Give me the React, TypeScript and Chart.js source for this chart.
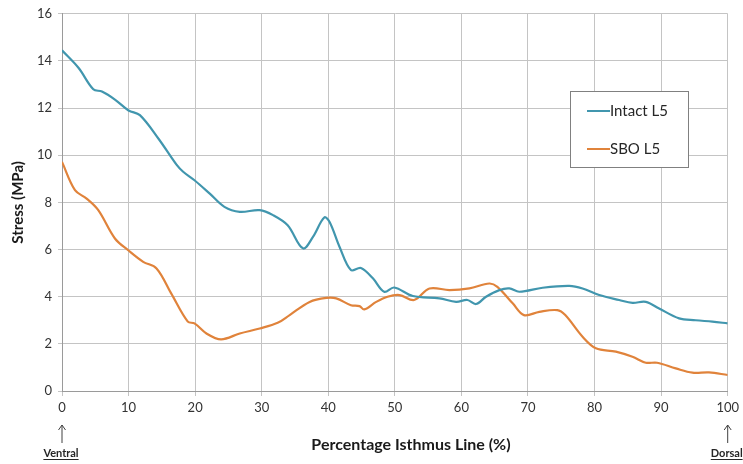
import React, { useEffect, useRef } from "react";
import { Chart, registerables } from "chart.js";

Chart.register(...registerables);

const intactX = [0, 2.5, 4.7, 6, 8, 10, 11.7, 14.5, 17.2, 18.2, 19.9, 22.2, 24.4, 26.7, 29.7, 31.7, 33.9, 36.2, 37.7, 39.4, 40.2, 41.7, 43.4, 44.9, 46.7, 48.4, 49.9, 52.7, 56.7, 59.2, 60.9, 62.2, 63.7, 65.7, 67.2, 68.7, 72.2, 76.2, 78.2, 80.7, 83.7, 85.7, 87.7, 89.7, 92.7, 95.2, 97.7, 100];
const intactY = [14.45, 13.7, 12.8, 12.7, 12.35, 11.9, 11.7, 10.7, 9.6, 9.3, 8.94, 8.37, 7.81, 7.6, 7.67, 7.46, 7.03, 6.05, 6.54, 7.36, 7.17, 6.11, 5.13, 5.22, 4.78, 4.21, 4.39, 4.03, 3.93, 3.78, 3.86, 3.69, 4.0, 4.28, 4.35, 4.21, 4.38, 4.46, 4.35, 4.07, 3.86, 3.74, 3.78, 3.5, 3.08, 3.0, 2.94, 2.87];

const sboX = [0, 1.95, 3.7, 5.45, 7.95, 9.95, 12.2, 14.2, 16.4, 18.9, 19.9, 21.7, 23.9, 26.7, 29.7, 32.4, 34.2, 37.2, 39.7, 41.2, 43.4, 44.7, 45.4, 47.2, 48.9, 50.7, 52.9, 55.2, 58.2, 61.2, 64.2, 65.4, 67.7, 69.4, 71.7, 74.4, 75.6, 78.2, 80.2, 83.2, 85.7, 87.7, 89.4, 92.2, 94.7, 97.2, 100];
const sboY = [9.72, 8.52, 8.16, 7.67, 6.47, 5.97, 5.48, 5.2, 4.14, 2.94, 2.87, 2.44, 2.19, 2.44, 2.65, 2.89, 3.22, 3.78, 3.95, 3.93, 3.64, 3.6, 3.46, 3.78, 4.0, 4.07, 3.86, 4.35, 4.28, 4.35, 4.56, 4.42, 3.72, 3.22, 3.36, 3.43, 3.22, 2.3, 1.81, 1.67, 1.45, 1.2, 1.2, 0.96, 0.78, 0.79, 0.68];

const seriesNames = ["Intact L5", "SBO L5"];
const seriesColors = ["#4196AE", "#E0833B"];
const endLabels = ["Ventral", "Dorsal"];
const xTitle = "Percentage Isthmus Line (%)";

const FONT = "Lato, 'Open Sans', sans-serif";

const overlayPlugin = {
  id: "overlay",
  afterDraw(chart: any) {
    const ctx = chart.ctx;
    const xs = chart.scales.x;
    ctx.save();
    // legend box
    const bx = 570, by = 91, bw = 118, bh = 76;
    ctx.fillStyle = "#ffffff";
    ctx.fillRect(bx, by, bw, bh);
    ctx.strokeStyle = "#808080";
    ctx.lineWidth = 1;
    ctx.strokeRect(bx + 0.5, by + 0.5, bw, bh);
    ctx.font = `15px ${FONT}`;
    ctx.textBaseline = "middle";
    ctx.textAlign = "left";
    const rows = [111, 149];
    seriesNames.forEach((n, i) => {
      ctx.strokeStyle = seriesColors[i];
      ctx.lineWidth = 2;
      ctx.beginPath();
      ctx.moveTo(587, rows[i]);
      ctx.lineTo(610, rows[i]);
      ctx.stroke();
      ctx.fillStyle = "#262626";
      ctx.fillText(n, 610, rows[i]);
    });
    // x-axis title (offset like the original)
    ctx.font = `bold 16px ${FONT}`;
    ctx.textAlign = "center";
    ctx.fillStyle = "#1a1a1a";
    ctx.fillText(xTitle, 411, 445);
    // ventral/dorsal annotations
    const ends = [xs.getPixelForValue(0), xs.getPixelForValue(100)];
    ctx.font = `bold 11px ${FONT}`;
    ctx.textAlign = "center";
    ends.forEach((px: number, i: number) => {
      ctx.strokeStyle = "#404040";
      ctx.lineWidth = 1;
      ctx.beginPath();
      ctx.moveTo(px, 443);
      ctx.lineTo(px, 425);
      ctx.moveTo(px - 3.5, 430);
      ctx.lineTo(px, 425);
      ctx.lineTo(px + 3.5, 430);
      ctx.stroke();
      const tx = px - 1;
      ctx.fillStyle = "#262626";
      ctx.fillText(endLabels[i], tx, 453);
      const w = ctx.measureText(endLabels[i]).width;
      ctx.fillRect(tx - w / 2, 459, w, 1);
    });
    ctx.restore();
  },
};

export default function App() {
  const ref = useRef<HTMLCanvasElement>(null);
  useEffect(() => {
    document.body.style.margin = "0";
    const chart = new Chart(ref.current as HTMLCanvasElement, {
      type: "line",
      data: {
        datasets: [
          {
            label: seriesNames[0],
            data: intactX.map((x, i) => ({ x, y: intactY[i] })),
            borderColor: seriesColors[0],
            borderWidth: 2.2,
            pointRadius: 0,
            tension: 0.35,
            fill: false,
          },
          {
            label: seriesNames[1],
            data: sboX.map((x, i) => ({ x, y: sboY[i] })),
            borderColor: seriesColors[1],
            borderWidth: 2.2,
            pointRadius: 0,
            tension: 0.35,
            fill: false,
          },
        ],
      },
      options: {
        animation: false,
        responsive: false,
        layout: { padding: { top: 13, right: 14, left: 0, bottom: 0 } },
        plugins: { legend: { display: false }, tooltip: { enabled: false } },
        scales: {
          x: {
            type: "linear",
            min: 0,
            max: 100,
            ticks: { stepSize: 10, color: "#333333", font: { family: FONT, size: 13 }, padding: 4 },
            grid: { color: "#c4c4c4", tickLength: 5, lineWidth: 1 },
            border: { color: "#9a9a9a" },
            title: { display: false },
            afterFit(scale: any) {
              scale.height = 73;
            },
          },
          y: {
            min: 0,
            max: 16,
            ticks: { stepSize: 2, color: "#333333", font: { family: FONT, size: 13 }, padding: 6 },
            grid: { color: "#c4c4c4", tickLength: 4, lineWidth: 1 },
            border: { color: "#9a9a9a" },
            title: {
              display: true,
              text: "Stress (MPa)",
              color: "#1a1a1a",
              font: { family: FONT, size: 15, weight: "bold" },
              padding: { top: 9, bottom: 0 },
            },
            afterFit(scale: any) {
              scale.width = 62;
            },
          },
        },
      },
      plugins: [overlayPlugin],
    } as any);
    return () => chart.destroy();
  }, []);
  return <canvas ref={ref} width={743} height={464} style={{ display: "block" }} />;
}
